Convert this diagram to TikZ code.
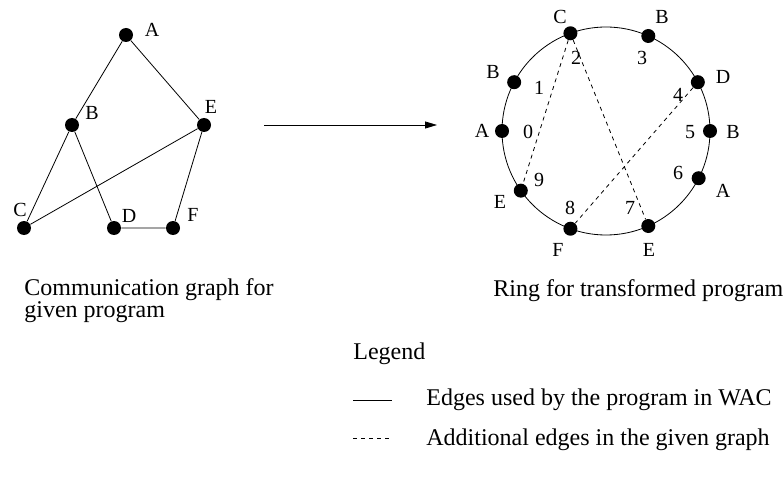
\documentclass[tikz,border=0pt]{standalone}
\usepackage{fontspec}
\setmainfont{Liberation Serif}
\usetikzlibrary{arrows.meta}
\tikzset{
	dot/.style={circle, fill, inner sep=0pt, minimum size=14pt},
	lbl/.style={font=\fontsize{20}{20}\selectfont, inner sep=0pt},
	captxt/.style={font=\fontsize{24}{22}\selectfont, inner sep=0pt, align=left, anchor=base west},
	extra/.style={dash pattern=on 4pt off 4pt},
}
\begin{document}
\begin{tikzpicture}[x=1pt, y=-1pt, line width=0.8pt]
	\useasboundingbox (0, 0) rectangle (784, 481);
	%通信グラフ
	\node[dot] (A) at (126, 35) {};
	\node[dot] (B) at (72, 125) {};
	\node[dot] (E) at (204, 125) {};
	\node[dot] (C) at (24, 228) {};
	\node[dot] (D) at (114, 228) {};
	\node[dot] (F) at (173, 228) {};
	\node[lbl] (lA) at (152, 30) {A};
	\node[lbl] (lB) at (92, 113) {B};
	\node[lbl] (lE) at (211, 107) {E};
	\node[lbl] (lC) at (20, 210) {C};
	\node[lbl] (lD) at (129, 216) {D};
	\node[lbl] (lF) at (193, 215) {F};
	%辺
	\draw (A)--(B)--(C)--(E)--(A);
	\draw (B)--(D)--(F)--(E);
	%矢印
	\path (264, 125) coordinate (from);
	\path (437, 125) coordinate (to);
	\draw[-{Triangle[length=12pt, width=7pt]}] (from)--(to);
	%リング
	\path (606, 131) coordinate (O);
	\draw (O) circle[radius=104pt];
	\path (O)++(180:104pt) node[dot] (r0) {};
	\path (O)++(152:104pt) node[dot] (r1) {};
	\path (O)++(110:104pt) node[dot] (r2) {};
	\path (O)++(66:104pt) node[dot] (r3) {};
	\path (O)++(28:104pt) node[dot] (r4) {};
	\path (O)++(0:104pt) node[dot] (r5) {};
	\path (O)++(-27:104pt) node[dot] (r6) {};
	\path (O)++(-66:104pt) node[dot] (r7) {};
	\path (O)++(-110:104pt) node[dot] (r8) {};
	\path (O)++(-145:104pt) node[dot] (r9) {};
	%番号
	\node[lbl] (n0) at (528, 132) {0};
	\node[lbl] (n1) at (539, 88) {1};
	\node[lbl] (n2) at (576, 58) {2};
	\node[lbl] (n3) at (642, 58) {3};
	\node[lbl] (n4) at (678, 95) {4};
	\node[lbl] (n5) at (690, 132) {5};
	\node[lbl] (n6) at (678, 173) {6};
	\node[lbl] (n7) at (630, 208) {7};
	\node[lbl] (n8) at (570, 208) {8};
	\node[lbl] (n9) at (539, 180) {9};
	%プロセス名
	\node[lbl] (m0) at (482, 131) {A};
	\node[lbl] (m1) at (493, 72) {B};
	\node[lbl] (m2) at (560, 17) {C};
	\node[lbl] (m3) at (662, 17) {B};
	\node[lbl] (m4) at (723, 77) {D};
	\node[lbl] (m5) at (733, 132) {B};
	\node[lbl] (m6) at (723, 191) {A};
	\node[lbl] (m7) at (649, 250) {E};
	\node[lbl] (m8) at (558, 250) {F};
	\node[lbl] (m9) at (500, 202) {E};
	%追加の辺
	\draw[extra] (r2)--(r9);
	\draw[extra] (r2)--(r7);
	\draw[extra] (r4)--(r8);
	%説明
	\node[captxt] (capL) at (24, 317) {Communication graph for\\given program};
	\node[captxt] (capR) at (493, 296) {Ring for transformed program};
	%凡例
	\node[captxt] (leg) at (353, 359) {Legend};
	\path (353, 400) coordinate (s1);
	\path (392, 400) coordinate (s2);
	\draw (s1)--(s2);
	\node[captxt] (legS) at (426, 405) {Edges used by the program in WAC};
	\path (353, 438) coordinate (d1);
	\path (392, 438) coordinate (d2);
	\draw[extra] (d1)--(d2);
	\node[captxt] (legD) at (426, 445) {Additional edges in the given graph};
\end{tikzpicture}
\end{document}
